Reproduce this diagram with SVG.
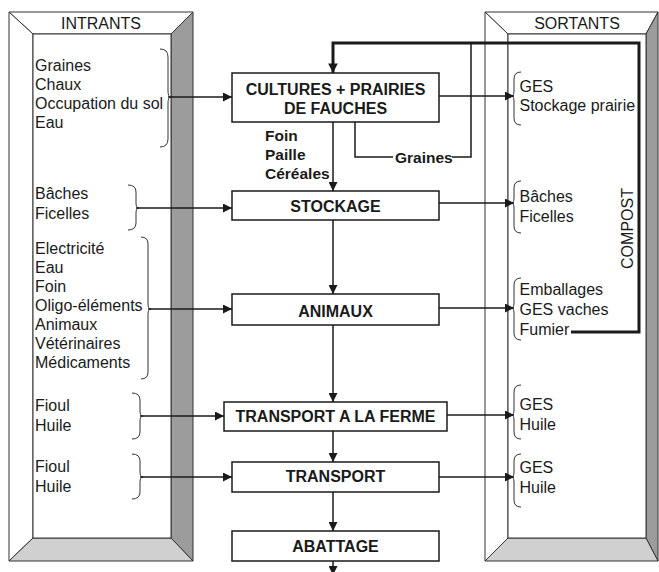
<svg xmlns="http://www.w3.org/2000/svg" width="659" height="572" viewBox="0 0 659 572">
<style>
  text { font-family: "Liberation Sans", Arial, sans-serif; font-size: 16px; fill: #1a1a1a; }
  .node rect { fill: #ffffff; stroke: #1a1a1a; stroke-width: 1.5; }
  .node text { font-weight: bold; text-anchor: middle; font-size: 16px; }
  .bold { font-weight: bold; font-size: 15.5px; }
  .bevel { stroke: #333; stroke-width: 1; stroke-linejoin: miter; }
  .lt { fill: #ffffff; }
  .dk { fill: #9c9c9c; }
  .md { fill: #d0d0d0; }
  .edge { fill: none; stroke: #1a1a1a; stroke-width: 1.5; }
  .thick { fill: none; stroke: #1a1a1a; stroke-width: 3; }
  .brace { fill: none; stroke: #333; stroke-width: 1; }
  .title { text-anchor: middle; }
</style>
<defs>
  <marker id="ah" viewBox="0 0 10 10" refX="10" refY="5" markerWidth="6" markerHeight="6" markerUnits="strokeWidth" orient="auto">
    <path d="M0,0 L10,5 L0,10 z" fill="#1a1a1a"/>
  </marker>
  <marker id="ahT" viewBox="0 0 10 10" refX="10" refY="5" markerWidth="3.2" markerHeight="3.2" markerUnits="strokeWidth" orient="auto">
    <path d="M0,0 L10,5 L0,10 z" fill="#1a1a1a"/>
  </marker>
</defs>

<g id="panel-intrants">
  <polygon class="bevel lt" points="9,12 193,12 171,34 33,34"/>
  <polygon class="bevel lt" points="9,12 33,34 33,538 9,561"/>
  <polygon class="bevel dk" points="193,12 193,561 171,538 171,34"/>
  <polygon class="bevel md" points="9,561 33,538 171,538 193,561"/>
  <rect class="bevel lt" x="33" y="34" width="138" height="504"/>
  <text class="title" x="101" y="28.5">INTRANTS</text>
</g>

<g id="panel-sortants">
  <polygon class="bevel lt" points="485,12 658,12 646,34 508,34"/>
  <polygon class="bevel lt" points="485,12 508,34 508,538 485,561"/>
  <polygon class="bevel dk" points="658,12 658,561 646,538 646,34"/>
  <polygon class="bevel md" points="485,561 508,538 646,538 658,561"/>
  <rect class="bevel lt" x="508" y="34" width="138" height="504"/>
  <text class="title" x="577" y="28.5">SORTANTS</text>
</g>

<g id="inputs">
  <text x="35" y="70.5">Graines</text>
  <text x="35" y="89.7">Chaux</text>
  <text x="35" y="108.9">Occupation du sol</text>
  <text x="35" y="128.1">Eau</text>
  <path class="brace" d="M160,49 Q168,49 168,57 L168,91 Q168,97 171,97 Q168,97 168,103 L168,139 Q168,147 160,147"/>

  <text x="35" y="199">Bâches</text>
  <text x="35" y="218.5">Ficelles</text>
  <path class="brace" d="M128,185 Q136,185 136,192 L136,203 Q136,208 139,208 Q136,208 136,213 L136,223 Q136,230 128,230"/>

  <text x="35" y="254">Electricité</text>
  <text x="35" y="273">Eau</text>
  <text x="35" y="292">Foin</text>
  <text x="35" y="311">Oligo-éléments</text>
  <text x="35" y="330">Animaux</text>
  <text x="35" y="349">Vétérinaires</text>
  <text x="35" y="368">Médicaments</text>
  <path class="brace" d="M141,237 Q148,237 148,244 L148,304 Q148,309 151,309 Q148,309 148,314 L148,372 Q148,379 141,379"/>

  <text x="35" y="411">Fioul</text>
  <text x="35" y="430.5">Huile</text>
  <path class="brace" d="M132,393 Q140,393 140,400 L140,411 Q140,416 143,416 Q140,416 140,421 L140,432 Q140,439 132,439"/>

  <text x="35" y="472">Fioul</text>
  <text x="35" y="491.5">Huile</text>
  <path class="brace" d="M132,454 Q140,454 140,461 L140,472 Q140,477 143,477 Q140,477 140,482 L140,492 Q140,499 132,499"/>
</g>

<g id="outputs">
  <text x="519.5" y="91.5">GES</text>
  <text x="519.5" y="110.5">Stockage prairie</text>
  <path class="brace" d="M521,72 Q514,72 514,79 L514,91 Q514,96 511,96 Q514,96 514,101 L514,118 Q514,125 521,125"/>

  <text x="519.5" y="202">Bâches</text>
  <text x="519.5" y="222">Ficelles</text>
  <path class="brace" d="M521,181 Q514,181 514,188 L514,198 Q514,203 511,203 Q514,203 514,208 L514,226 Q514,233 521,233"/>

  <text x="519.5" y="295">Emballages</text>
  <text x="519.5" y="315">GES vaches</text>
  <text x="519.5" y="335">Fumier</text>
  <path class="brace" d="M521,278 Q514,278 514,285 L514,303 Q514,308 511,308 Q514,308 514,313 L514,333 Q514,340 521,340"/>

  <text x="519.5" y="410">GES</text>
  <text x="519.5" y="430">Huile</text>
  <path class="brace" d="M521,385 Q514,385 514,392 L514,410 Q514,415 511,415 Q514,415 514,420 L514,432 Q514,439 521,439"/>

  <text x="519.5" y="473">GES</text>
  <text x="519.5" y="493">Huile</text>
  <path class="brace" d="M521,454 Q514,454 514,461 L514,472 Q514,477 511,477 Q514,477 514,482 L514,500 Q514,507 521,507"/>

  <text transform="translate(632.5,228.5) rotate(-90)" text-anchor="middle" font-size="15.5">COMPOST</text>
</g>

<g id="connectors">
  <line class="edge" x1="168" y1="97" x2="232" y2="97" marker-end="url(#ah)"/>
  <line class="edge" x1="136" y1="208" x2="232" y2="208" marker-end="url(#ah)"/>
  <line class="edge" x1="148" y1="309" x2="232" y2="309" marker-end="url(#ah)"/>
  <line class="edge" x1="140" y1="416" x2="224" y2="416" marker-end="url(#ah)"/>
  <line class="edge" x1="140" y1="477" x2="232" y2="477" marker-end="url(#ah)"/>
  <line class="edge" x1="439" y1="96" x2="514" y2="96" marker-end="url(#ah)"/>
  <line class="edge" x1="439" y1="203" x2="514" y2="203" marker-end="url(#ah)"/>
  <line class="edge" x1="439" y1="308" x2="514" y2="308" marker-end="url(#ah)"/>
  <line class="edge" x1="447" y1="415" x2="514" y2="415" marker-end="url(#ah)"/>
  <line class="edge" x1="439" y1="477" x2="514" y2="477" marker-end="url(#ah)"/>
  <line class="edge" x1="333" y1="122" x2="333" y2="191" marker-end="url(#ah)"/>
  <line class="edge" x1="333" y1="220" x2="333" y2="294" marker-end="url(#ah)"/>
  <line class="edge" x1="333" y1="325" x2="333" y2="402" marker-end="url(#ah)"/>
  <line class="edge" x1="333" y1="431" x2="333" y2="462" marker-end="url(#ah)"/>
  <line class="edge" x1="333" y1="492" x2="333" y2="531" marker-end="url(#ah)"/>
  <line class="edge" x1="333" y1="561" x2="333" y2="575" marker-end="url(#ah)"/>
  <polyline class="edge" points="355,122 355,157 393,157"/>
  <polyline class="edge" points="452,157 471,157 471,43"/>
  <polyline class="thick" points="571,332 639,332 639,43 333,43 333,73" marker-end="url(#ahT)"/>
  <text class="bold" x="265" y="141">Foin</text>
  <text class="bold" x="265" y="160">Paille</text>
  <text class="bold" x="265" y="178.5">Céréales</text>
  <text class="bold" x="395" y="162.5">Graines</text>
</g>

<g id="node-cultures" class="node">
  <rect x="232" y="73" width="207" height="49"/>
  <text x="335.5" y="94.5">CULTURES + PRAIRIES</text>
  <text x="335.5" y="114">DE FAUCHES</text>
</g>
<g id="node-stockage" class="node">
  <rect x="232" y="191" width="207" height="29"/>
  <text x="335.5" y="212">STOCKAGE</text>
</g>
<g id="node-animaux" class="node">
  <rect x="232" y="294" width="207" height="31"/>
  <text x="335.5" y="316.5">ANIMAUX</text>
</g>
<g id="node-transport-ferme" class="node">
  <rect x="224" y="402" width="223" height="29"/>
  <text x="335.5" y="421.5">TRANSPORT A LA FERME</text>
</g>
<g id="node-transport" class="node">
  <rect x="232" y="462" width="207" height="30"/>
  <text x="335.5" y="482">TRANSPORT</text>
</g>
<g id="node-abattage" class="node">
  <rect x="232" y="531" width="207" height="30"/>
  <text x="335.5" y="551.5">ABATTAGE</text>
</g>
</svg>
